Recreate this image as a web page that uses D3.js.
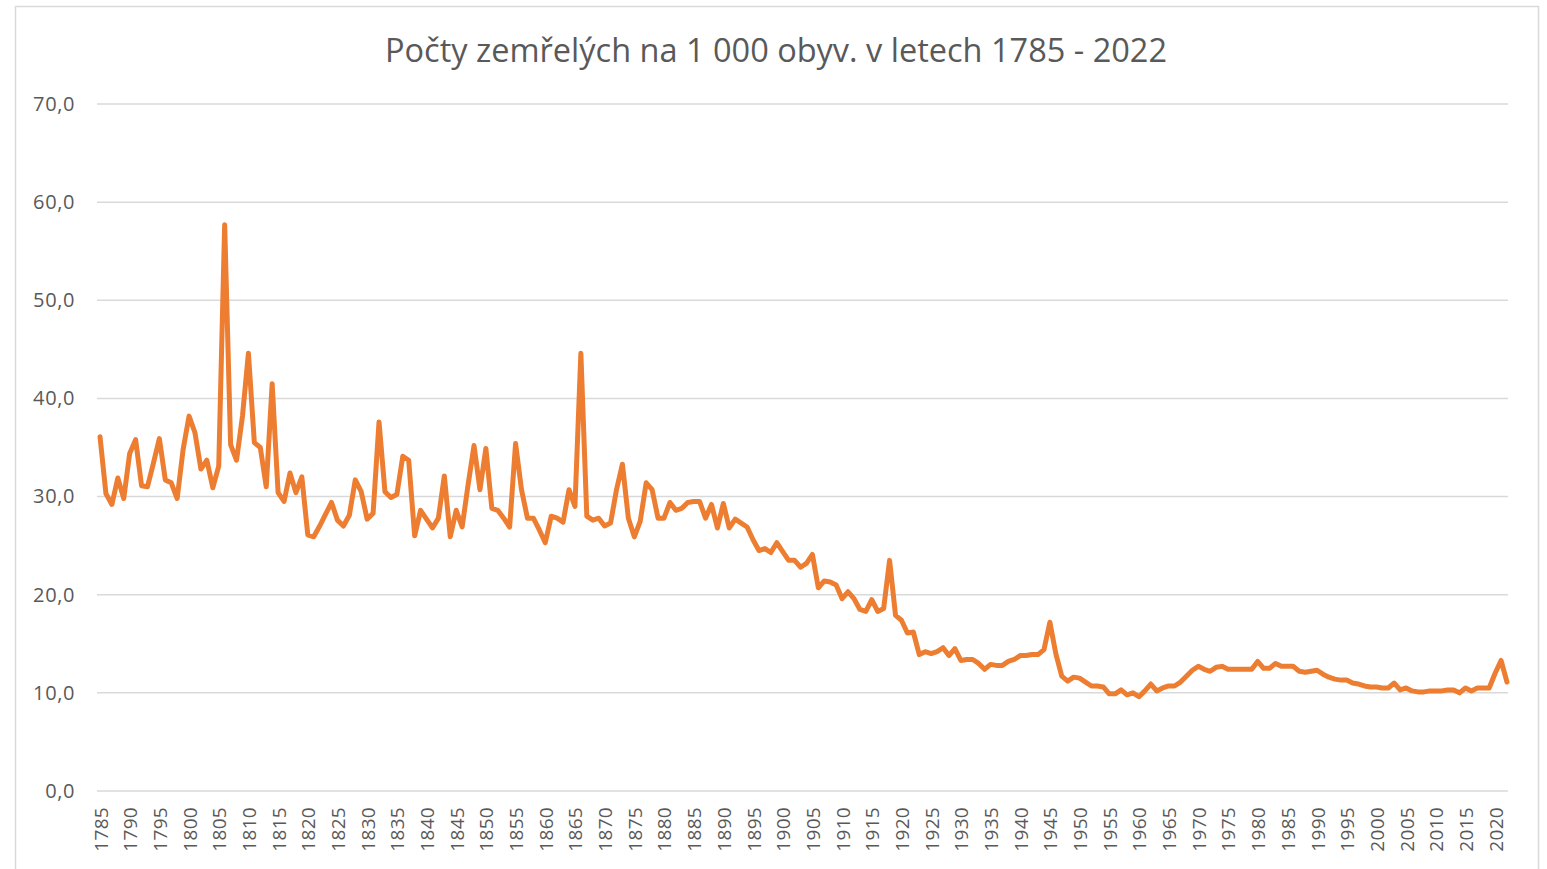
<!DOCTYPE html>
<html>
<head>
<meta charset="utf-8">
<script src="https://cdn.jsdelivr.net/npm/d3@7"></script>
<style>
  body { margin: 0; background: #fff; }
  svg { display: block; }
</style>
</head>
<body>
<svg id="chart" width="1547" height="869"></svg>
<script>
const title = 'Počty zemřelých na 1 000 obyv. v letech 1785 - 2022';

const years = d3.range(1785, 2023);

// zemřelí na 1 000 obyvatel, 1785 - 2022
const deathRates = [
    36.1, 30.3, 29.2, 31.9, 29.8, 34.4, 35.8, 31.1, 31.0, 33.4,
    35.9, 31.7, 31.4, 29.8, 34.8, 38.2, 36.5, 32.8, 33.7, 30.9,
    33.1, 57.7, 35.3, 33.7, 38.2, 44.6, 35.5, 35.0, 31.0, 41.5,
    30.4, 29.5, 32.4, 30.4, 32.0, 26.1, 25.9, 27.0, 28.2, 29.4,
    27.6, 27.0, 28.1, 31.7, 30.5, 27.7, 28.3, 37.6, 30.5, 29.9,
    30.2, 34.1, 33.7, 26.0, 28.6, 27.7, 26.8, 27.8, 32.1, 25.9,
    28.6, 26.9, 31.2, 35.2, 30.7, 34.9, 28.8, 28.6, 27.8, 26.9,
    35.4, 30.7, 27.8, 27.8, 26.6, 25.3, 28.0, 27.8, 27.4, 30.7,
    29.0, 44.6, 28.0, 27.6, 27.8, 27.0, 27.3, 30.7, 33.3, 27.8,
    25.9, 27.5, 31.4, 30.7, 27.8, 27.8, 29.4, 28.6, 28.8, 29.4,
    29.5, 29.5, 27.8, 29.2, 26.8, 29.3, 26.8, 27.7, 27.3, 26.9,
    25.6, 24.5, 24.7, 24.3, 25.3, 24.4, 23.5, 23.5, 22.8, 23.2,
    24.1, 20.7, 21.4, 21.3, 21.0, 19.6, 20.3, 19.6, 18.5, 18.3,
    19.5, 18.3, 18.6, 23.5, 17.9, 17.4, 16.1, 16.2, 13.9, 14.2,
    14.0, 14.2, 14.6, 13.8, 14.5, 13.3, 13.4, 13.4, 13.0, 12.4,
    12.9, 12.8, 12.8, 13.2, 13.4, 13.8, 13.8, 13.9, 13.9, 14.4,
    17.2, 14.0, 11.7, 11.2, 11.6, 11.5, 11.1, 10.7, 10.7, 10.6,
    9.9, 9.9, 10.3, 9.8, 10.0, 9.6, 10.2, 10.9, 10.2, 10.5,
    10.7, 10.7, 11.1, 11.7, 12.3, 12.7, 12.4, 12.2, 12.6, 12.7,
    12.4, 12.4, 12.4, 12.4, 12.4, 13.2, 12.5, 12.5, 13.0, 12.7,
    12.7, 12.7, 12.2, 12.1, 12.2, 12.3, 11.9, 11.6, 11.4, 11.3,
    11.3, 11.0, 10.9, 10.7, 10.6, 10.6, 10.5, 10.5, 11.0, 10.3,
    10.5, 10.2, 10.1, 10.1, 10.2, 10.2, 10.2, 10.3, 10.3, 10.0,
    10.5, 10.2, 10.5, 10.5, 10.5, 12.0, 13.3, 11.1
];

const yTicks = [0, 10, 20, 30, 40, 50, 60, 70];
const xTickYears = years.filter(y => (y - 1785) % 5 === 0);

const svg = d3.select('#chart');
const width = 1547, height = 869;
const margin = {left: 100, right: 40, top: 104, bottom: 78};
const font = '"Open Sans", "Noto Sans", sans-serif';
const textColor = '#595959';

// ramecek grafu
svg.append('rect')
    .attr('x', 15.5).attr('y', 6.5)
    .attr('width', 1523).attr('height', 880)
    .attr('fill', 'none')
    .attr('stroke', '#d9d9d9')
    .attr('stroke-width', 1.5);

svg.append('text')
    .attr('x', 776).attr('y', 62)
    .attr('text-anchor', 'middle')
    .attr('font-family', font)
    .attr('font-size', 32.5)
    .attr('fill', textColor)
    .text(title);

const x = d3.scalePoint()
    .domain(years)
    .range([margin.left, width - margin.right]);

const y = d3.scaleLinear()
    .domain([0, 70])
    .range([height - margin.bottom, margin.top]);

// mrizka
svg.append('g')
    .selectAll('line')
    .data(yTicks)
    .enter()
    .append('line')
    .attr('x1', 97).attr('x2', 1508)
    .attr('y1', d => y(d)).attr('y2', d => y(d))
    .attr('stroke', '#d9d9d9')
    .attr('stroke-width', 1.5);

const yAxis = svg.append('g')
    .attr('transform', `translate(${margin.left - 25},0)`)
    .call(d3.axisLeft(y).tickValues(yTicks).tickSize(0).tickPadding(0)
        .tickFormat(d => d3.format('.1f')(d).replace('.', ',')));
yAxis.select('.domain').remove();
yAxis.selectAll('text')
    .attr('font-family', font)
    .attr('font-size', 20)
    .attr('letter-spacing', 0.6)
    .attr('fill', textColor);

const xAxis = svg.append('g')
    .attr('transform', `translate(0,${height - margin.bottom})`)
    .call(d3.axisBottom(x).tickValues(xTickYears).tickSize(0).tickPadding(0));
xAxis.select('.domain').remove();
xAxis.selectAll('text')
    .attr('font-family', font)
    .attr('font-size', 19)
    .attr('letter-spacing', 0.3)
    .attr('fill', textColor)
    .attr('text-anchor', 'end')
    .attr('dy', null)
    .attr('transform', 'translate(0,16) rotate(-90)')
    .attr('x', 0).attr('y', 0)
    .attr('dominant-baseline', 'central');

const line = d3.line()
    .x((d, i) => x(years[i]))
    .y(d => y(d));

svg.append('path')
    .datum(deathRates)
    .attr('d', line)
    .attr('fill', 'none')
    .attr('stroke', '#ed7d31')
    .attr('stroke-width', 5)
    .attr('stroke-linejoin', 'round')
    .attr('stroke-linecap', 'round');
</script>
</body>
</html>
